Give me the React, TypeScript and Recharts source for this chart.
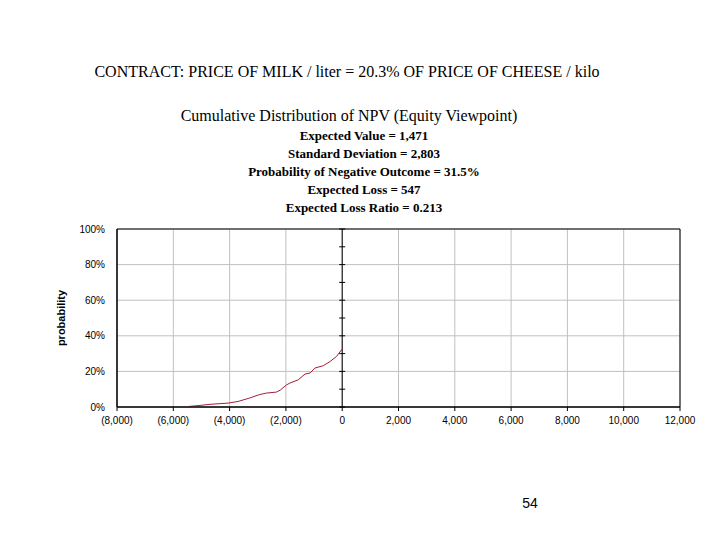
import { LineChart, Line, XAxis, YAxis, CartesianGrid, ReferenceLine, ReferenceArea } from 'recharts'

const npvValues = [-5450, -5050, -4700, -4050, -3700, -3300, -2950, -2700, -2330, -2200, -1970, -1850, -1560, -1320, -1140, -970, -670, -430, -200, -20, 0]
const cumProb = [0.3, 0.9, 1.5, 2.2, 3.1, 5.0, 6.9, 7.8, 8.4, 9.5, 12.5, 13.5, 15.3, 18.5, 19.1, 21.9, 23.2, 25.6, 28.4, 32.2, 31.5]

const xTicks = [-8000, -6000, -4000, -2000, 0, 2000, 4000, 6000, 8000, 10000, 12000]
const yTicks = [0, 20, 40, 60, 80, 100]

const statLines = [
  'Expected Value = 1,471',
  'Standard Deviation = 2,803',
  'Probability of Negative Outcome = 31.5%',
  'Expected Loss = 547',
  'Expected Loss Ratio = 0.213',
]

const data = npvValues.map((x, i) => ({ x, p: cumProb[i] }))

const fmtX = (v: number) => {
  if (v === 0) return '0'
  const s = Math.abs(v).toLocaleString('en-US')
  return v < 0 ? `(${s})` : s
}

const SANS = '"Liberation Sans", Arial, sans-serif'
const SERIF = '"Liberation Serif", "Times New Roman", serif'

// value axis that crosses at x = 0, with a tick every 10%
function CrossAxis(props: any) {
  const { x1, y1, x2, y2 } = props
  const top = Math.min(y1, y2)
  const bottom = Math.max(y1, y2)
  const step = (bottom - top) / 10
  const ticks = Array.from({ length: 11 }, (_, i) => top + i * step)
  return (
    <g>
      <line x1={x1} y1={top} x2={x2} y2={bottom} stroke="#000" strokeWidth={1} />
      {ticks.map((t, i) => (
        <line key={i} x1={x1 - 3} x2={x1 + 3} y1={t} y2={t} stroke="#000" strokeWidth={1} />
      ))}
    </g>
  )
}

export default function App() {
  return (
    <div style={{ position: 'absolute', left: 0, top: 0, width: 720, height: 540, background: '#fff' }}>
      <div style={{ position: 'absolute', left: 0, width: 694, top: 63, textAlign: 'center', fontFamily: SERIF, fontSize: 16, color: '#000' }}>
        CONTRACT: PRICE OF MILK / liter = 20.3% OF PRICE OF CHEESE / kilo
      </div>
      <div style={{ position: 'absolute', left: 0, width: 698, top: 107, textAlign: 'center', fontFamily: SERIF, fontSize: 16, color: '#000' }}>
        Cumulative Distribution of NPV (Equity Viewpoint)
      </div>
      {statLines.map((s, i) => (
        <div
          key={s}
          style={{ position: 'absolute', left: 0, width: 728, top: 126.5 + i * 18.2, textAlign: 'center', fontFamily: SERIF, fontSize: 13, fontWeight: 'bold', color: '#000', lineHeight: '17px' }}
        >
          {s}
        </div>
      ))}
      <div
        style={{ position: 'absolute', left: 61, top: 318, transform: 'translate(-50%, -50%) rotate(-90deg)', fontFamily: SANS, fontSize: 11, fontWeight: 'bold', whiteSpace: 'nowrap' }}
      >
        probability
      </div>
      <div style={{ position: 'absolute', left: 530, top: 503, transform: 'translate(-50%, -50%)', fontFamily: SANS, fontSize: 14 }}>
        54
      </div>
      <div style={{ position: 'absolute', left: 0, top: 0 }}>
        <LineChart width={720} height={540} data={data} margin={{ top: 229, right: 40, bottom: 103, left: 67 }}>
          <CartesianGrid stroke="#c0c0c0" strokeWidth={1} />
          <XAxis
            dataKey="x"
            type="number"
            domain={[-8000, 12000]}
            ticks={xTicks}
            tickFormatter={fmtX}
            interval={0}
            height={30}
            axisLine={{ stroke: '#000' }}
            tickLine={{ stroke: '#000' }}
            tickSize={4}
            tickMargin={6}
            tick={{ fontSize: 10, fill: '#000', fontFamily: SANS }}
          />
          <YAxis
            type="number"
            domain={[0, 100]}
            ticks={yTicks}
            tickFormatter={(v: number) => `${v}%`}
            interval={0}
            width={50}
            axisLine={{ stroke: '#000' }}
            tickLine={false}
            tickSize={0}
            tickMargin={12}
            tick={{ fontSize: 10, fill: '#000', fontFamily: SANS }}
          />
          <ReferenceArea x1={-8000} x2={12000} y1={0} y2={100} fill="none" stroke="#000" strokeWidth={1} fillOpacity={0} />
          <ReferenceLine x={0} shape={CrossAxis} />
          <Line
            type="linear"
            dataKey="p"
            stroke="#a0203a"
            strokeWidth={1}
            dot={false}
            activeDot={false}
            isAnimationActive={false}
          />
        </LineChart>
      </div>
    </div>
  )
}
